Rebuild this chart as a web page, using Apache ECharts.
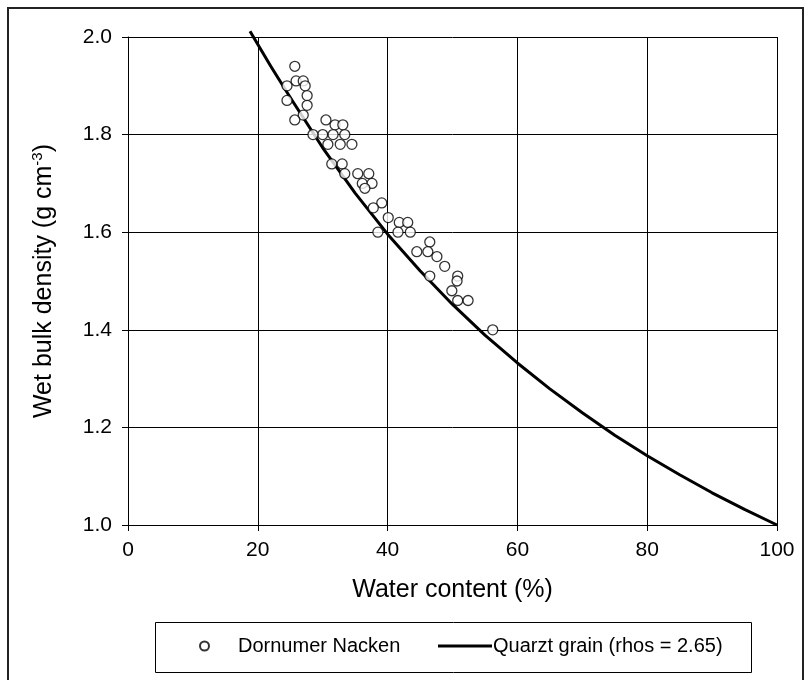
<!DOCTYPE html>
<html>
<head>
<meta charset="utf-8">
<script src="https://cdn.jsdelivr.net/npm/echarts@6/dist/echarts.min.js"></script>
<style>
html,body{margin:0;padding:0;background:#fff;}
#chart{width:811px;height:680px;}
</style>
</head>
<body>
<div id="chart"></div>
<script>
// Measured samples: Dornumer Nacken [water content %, wet bulk density]
const dornumerX = [25.7,25.9,27.0,24.5,27.3,24.5,27.6,27.6,27.0,25.7,30.5,31.9,33.1,30.0,31.6,33.4,28.5,30.8,32.7,34.5,31.4,33.0,33.4,35.4,37.1,36.1,37.6,36.5,39.1,37.8,40.1,41.8,43.1,38.5,41.6,43.5,46.5,44.5,46.2,47.6,48.8,46.5,50.8,50.7,49.9,50.8,52.4,56.2];
const dornumerY = [1.94,1.91,1.91,1.90,1.90,1.87,1.88,1.86,1.84,1.83,1.83,1.82,1.82,1.80,1.80,1.80,1.80,1.78,1.78,1.78,1.74,1.74,1.72,1.72,1.72,1.70,1.70,1.69,1.66,1.65,1.63,1.62,1.62,1.60,1.60,1.60,1.58,1.56,1.56,1.55,1.53,1.51,1.51,1.50,1.48,1.46,1.46,1.40];
// Quartz grain curve
const quartzX = [18.8,22,25,30,35,40,45,50,55,60,65,70,75,80,85,90,95,100];
const quartzY = [2.012,1.940,1.876,1.773,1.680,1.596,1.521,1.452,1.389,1.332,1.279,1.230,1.184,1.142,1.103,1.066,1.032,1.000];
const xTicks = [0,20,40,60,80,100];
const yTicks = [1.0,1.2,1.4,1.6,1.8,2.0];

const FONT = "'Liberation Sans', Arial, sans-serif";
const scatterData = dornumerX.map((x,i)=>[x, dornumerY[i]]);
const lineData = quartzX.map((x,i)=>[x, quartzY[i]]);

const chart = echarts.init(document.getElementById('chart'), null, {renderer:'canvas'});
chart.setOption({
  animation:false,
  backgroundColor:'#fff',
  graphic:[
    {type:'rect', shape:{x:8,y:8,width:795,height:690}, style:{fill:'none', stroke:'#222', lineWidth:2}, silent:true},
    {type:'rect', shape:{x:155.5,y:622.5,width:596,height:50}, style:{fill:'none', stroke:'#000', lineWidth:1}, silent:true}
  ],
  grid:{left:128, top:37, width:649, height:488, containLabel:false},
  xAxis:{
    type:'value', min:xTicks[0], max:xTicks[xTicks.length-1], interval:20,
    name:'Water content (%)', nameLocation:'middle', nameGap:53,
    nameTextStyle:{fontFamily:FONT, fontSize:25, color:'#000'},
    axisLine:{show:true, onZero:false, lineStyle:{color:'#000', width:1}},
    axisTick:{show:true, inside:false, length:6, lineStyle:{color:'#000'}},
    axisLabel:{margin:15, fontFamily:FONT, fontSize:21, color:'#000'},
    splitLine:{show:true, lineStyle:{color:'#000', width:1}}
  },
  yAxis:{
    type:'value', min:yTicks[0], max:yTicks[yTicks.length-1], interval:0.2,
    name:'{a|Wet bulk density (g cm}{s|-3}{a|)}', nameLocation:'middle', nameGap:70, nameRotate:90,
    nameTextStyle:{fontFamily:FONT, color:'#000', rich:{
      a:{fontFamily:FONT, fontSize:25, lineHeight:28, color:'#000'},
      s:{fontFamily:FONT, fontSize:15, lineHeight:15, verticalAlign:'top', color:'#000'}
    }},
    axisLine:{show:true, onZero:false, lineStyle:{color:'#000', width:1}},
    axisTick:{show:true, inside:false, length:6, lineStyle:{color:'#000'}},
    axisLabel:{margin:16, fontFamily:FONT, fontSize:21, color:'#000', formatter:v=>v.toFixed(1)},
    splitLine:{show:true, lineStyle:{color:'#000', width:1}}
  },
  legend:[
    {data:['Dornumer Nacken'], left:199, top:636, itemWidth:9, itemHeight:9, padding:0,
     textStyle:{fontFamily:FONT, fontSize:20, color:'#000', padding:[0,0,0,24]}},
    {data:['Quarzt grain (rhos = 2.65)'], left:438, top:636, icon:'rect', itemWidth:54, itemHeight:3, padding:0,
     itemStyle:{color:'#000'},
     textStyle:{fontFamily:FONT, fontSize:20, color:'#000', padding:[0,0,0,-4]}}
  ],
  series:[
    {name:'Quarzt grain (rhos = 2.65)', type:'line', data:lineData, smooth:false, symbol:'none', clip:false,
     lineStyle:{color:'#000', width:3, join:'round'}, itemStyle:{color:'#000'}, z:2},
    {name:'Dornumer Nacken', type:'scatter', data:scatterData, symbol:'circle', symbolSize:10,
     itemStyle:{color:'#fff', borderColor:'#000', borderWidth:1.3}, z:3}
  ]
});
</script>
</body>
</html>
